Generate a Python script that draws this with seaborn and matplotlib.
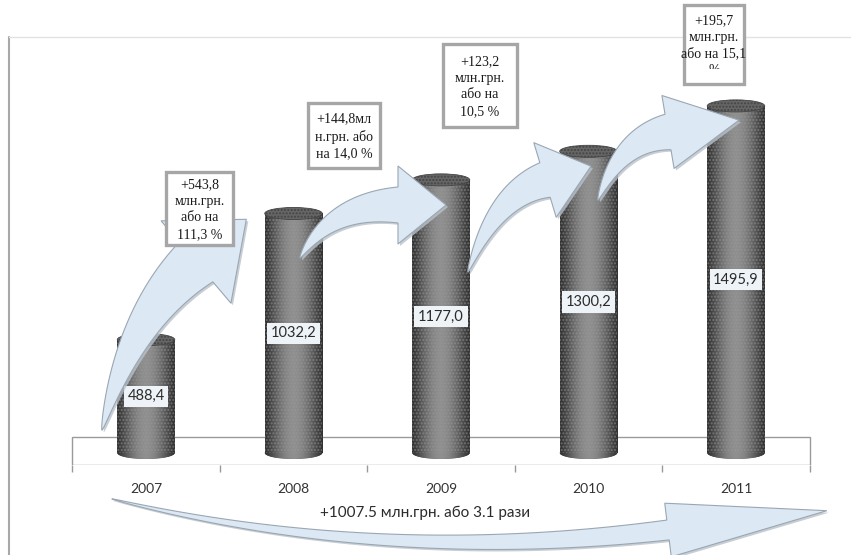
import numpy as np
import pandas as pd
import matplotlib
matplotlib.use("Agg")
import matplotlib.pyplot as plt
import seaborn as sns
from matplotlib.patches import Rectangle, Ellipse, Polygon
from matplotlib.transforms import Affine2D

# ---- data ----
years = ['2007', '2008', '2009', '2010', '2011']
values = [488.4, 1032.2, 1177.0, 1300.2, 1495.9]
value_labels = ['488,4', '1032,2', '1177,0', '1300,2', '1495,9']
growth_labels = ['+543,8\nмлн.грн.\nабо на\n111,3 %',
                 '+144,8мл\nн.грн. або\nна 14,0 %',
                 '+123,2\nмлн.грн.\nабо на\n10,5 %',
                 '+195,7\nмлн.грн.\nабо на 15,1\n%']
total_label = '+1007.5 млн.грн. або 3.1 рази'

W, H = 857, 555
sns.set_theme(style='white')
plt.rcParams['font.family'] = ['Lato', 'DejaVu Sans']

fig = plt.figure(figsize=(W / 100, H / 100), dpi=100)
fig.patch.set_facecolor('white')

# axes placement in pixels (left, top, right, bottom)
L, T, R, B = 9, 37, 850, 465
ax = fig.add_axes([L / W, 1 - B / H, (R - L) / W, (B - T) / H])
ax.set_facecolor('none')

df = pd.DataFrame({'year': years, 'value': values})
sns.barplot(data=df, x='year', y='value', color='#5a5a5a', width=0.39,
            ax=ax, zorder=3, linewidth=0)

YMIN, YMAX = -52, 1793
XMIN, XMAX = -0.929, 4.773

# pixel transform (origin top-left)
PX = Affine2D().scale(1, -1).translate(0, H)

# floor
ax.add_patch(Rectangle((-0.5, YMIN), 5.0, 69 - YMIN, fc='white', ec='#9a9a9a',
                       lw=1.0, zorder=1))

# cylinders
grad = np.linspace(0, 1, 64)
shade = 0.2 + 0.36 * np.sin(np.pi * grad) ** 1.2
grad_img = np.tile(shade, (8, 1))
ell_h = 52
for p in list(ax.patches):
    if p.get_width() > 1:
        continue
    x0, w, h = p.get_x(), p.get_width(), p.get_height()
    im = ax.imshow(grad_img, extent=[x0, x0 + w, 0, h], cmap='gray', vmin=0, vmax=1,
                   aspect='auto', zorder=3.1, interpolation='bilinear')
    im.set_clip_path(p)
    bot = Ellipse((x0 + w / 2, 0), w, ell_h, fc='#555555', ec='none', zorder=3.0)
    ax.add_patch(bot)
    im2 = ax.imshow(grad_img, extent=[x0, x0 + w, -ell_h / 2, ell_h / 2], cmap='gray',
                    vmin=0, vmax=1, aspect='auto', zorder=3.05, interpolation='bilinear')
    im2.set_clip_path(bot)
    # texture
    ax.add_patch(Rectangle((x0, 0), w, h, fc='none', ec='#9a9a9a', lw=0,
                           hatch='.....', zorder=3.2, alpha=0.5))
    top = Ellipse((x0 + w / 2, h), w, ell_h, fc='#666666', ec='#444444', lw=0.6,
                  zorder=3.3, hatch='.....')
    ax.add_patch(top)

ax.set_xlim(XMIN, XMAX)
ax.set_ylim(YMIN, YMAX)
for s in ax.spines.values():
    s.set_visible(False)
ax.set_yticks([])
ax.set_xlabel('')
ax.set_ylabel('')
ax.set_xticks(range(len(years)))
ax.set_xticklabels(years, fontsize=10, color='#333333')
ax.set_xticks([-0.5, 0.5, 1.5, 2.5, 3.5, 4.5], minor=True)
ax.tick_params(axis='x', which='major', length=0, pad=13)
ax.tick_params(axis='x', which='minor', length=5, color='#9a9a9a', width=1,
               direction='out', bottom=True)


def fat_arrow(p0, p1, p2, w_body, w_head, head_len, n=60):
    p0, p1, p2 = map(np.asarray, (p0, p1, p2))
    t = np.linspace(0, 1, n)[:, None]
    pts = (1 - t) ** 2 * p0 + 2 * (1 - t) * t * p1 + t ** 2 * p2
    der = 2 * (1 - t) * (p1 - p0) + 2 * t * (p2 - p1)
    der = der / np.linalg.norm(der, axis=1, keepdims=True)
    nor = np.column_stack([-der[:, 1], der[:, 0]])
    wid = (0.5 + (w_body - 0.5) * t[:, 0] ** 0.8)[:, None] / 2
    left = pts + nor * wid
    right = pts - nor * wid
    d, nn = der[-1], nor[-1]
    tip = p2 + d * head_len
    lb = p2 + nn * w_head / 2
    rb = p2 - nn * w_head / 2
    poly = np.vstack([left, lb, tip, rb, right[::-1]])
    return poly


arrows = [
    ((102, 430), (130, 318), (196, 262), 52, 108, 66),
    ((300, 258), (330, 205), (398, 205), 36, 78, 48),
    ((468, 272), (495, 195), (545, 180), 36, 78, 48),
    ((598, 200), (620, 140), (668, 132), 36, 74, 72),
    ((112, 499), (380, 565), (668, 530), 20, 54, 160),
]
for a in arrows:
    poly = fat_arrow(*a)
    fig.patches.append(Polygon(poly + np.array([2, 2]), closed=True, fc='#b9c2ca',
                               ec='none', transform=PX, zorder=4, alpha=0.8))
    fig.patches.append(Polygon(poly, closed=True, fc='#dce8f4', ec='#9aa7b3', lw=0.8,
                               transform=PX, zorder=4.1))

# value labels on bars
for i, (v, lab) in enumerate(zip(values, value_labels)):
    ax.text(i, v * 0.5, lab, ha='center', va='center', fontsize=10.5, color='#2b2b2b',
            zorder=6, bbox=dict(boxstyle='square,pad=0.25', fc='#eef3f8', ec='none'))

# growth boxes (pixel layout: left, top, right, bottom)
boxes = [(166, 172, 233, 245), (308, 103, 380, 168), (443, 44, 517, 127),
         (684, 5, 744, 84)]
for k, ((bl, bt, br, bb), txt) in enumerate(zip(boxes, growth_labels)):
    rect = Rectangle((bl, bt), br - bl, bb - bt, fc='white', ec='#a6a6a6', lw=2.4,
                     transform=PX, zorder=7)
    fig.patches.append(rect)
    tx = fig.text(((bl + br) / 2) / W, 1 - ((bt + bb) / 2 + 1) / H, txt, ha='center',
                  va='center', fontsize=10, family=['Liberation Serif', 'DejaVu Serif'],
                  color='#1a1a1a', linespacing=1.38, zorder=8)
    if k == len(boxes) - 1:
        clip = Rectangle((bl - 20, bt), br - bl + 40, bb - bt - 15, transform=PX,
                         fc='none', ec='none')
        tx.set_clip_path(clip)

# total growth label on bottom arrow
fig.text(425 / W, 1 - 513 / H, total_label, ha='center', va='center', fontsize=11,
         color='#2b2b2b', zorder=9)

# frame lines
fig.add_artist(plt.Line2D([9, 9], [0, H - 37], transform=Affine2D(), color='#a8a8a8', lw=1.5))
fig.add_artist(plt.Line2D([9, 850], [H - 37, H - 37], transform=Affine2D(), color='#e2e2e2', lw=1))

fig.savefig('out.png', dpi=100)
